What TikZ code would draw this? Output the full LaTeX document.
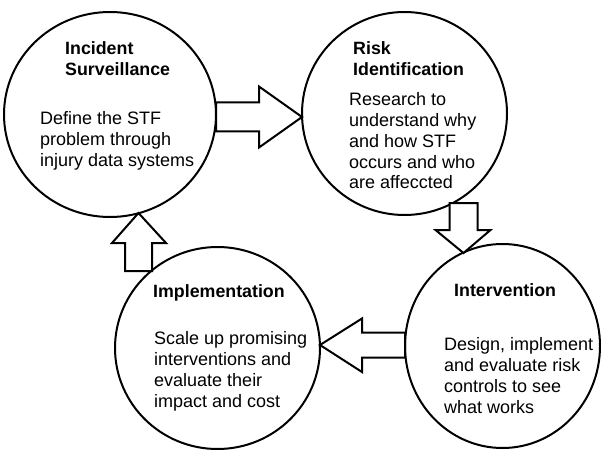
\documentclass[tikz,border=0pt]{standalone}
\usepackage{fontspec}
\setmainfont{Liberation Sans}
\usetikzlibrary{calc}
\begin{document}
\begin{tikzpicture}[x=1pt,y=-1pt,
  circ/.style={draw=black,line width=2pt},
  barrow/.style={draw=black,line width=2pt,fill=white,line join=miter},
  ttl/.style={anchor=north west,inner sep=0pt,align=left,font=\fontsize{17.8}{21.5}\selectfont\bfseries},
  bdy/.style={anchor=north west,inner sep=0pt,align=left,font=\fontsize{18}{20.8}\selectfont}]
\useasboundingbox (0,0) rectangle (601,449);
% circles
\draw[circ] (110,114.5) ellipse [x radius=106, y radius=102.5];
\draw[circ] (404.5,113.5) ellipse [x radius=102.5, y radius=101.5];
\draw[circ] (217.5,348) ellipse [x radius=102.5, y radius=101];
\draw[circ] (502.5,346) ellipse [x radius=97.5, y radius=102];
\coordinate (c1) at (110,114.5);
\coordinate (c2) at (404.5,113.5);
\coordinate (c3) at (217.5,348);
\coordinate (c4) at (502.5,346);
% block arrows
\coordinate (t12) at (302,117);
\draw[barrow] ($(t12)+(-86,-14.5)$) -- ($(t12)+(-43,-14.5)$) -- ($(t12)+(-43,-30.5)$) -- (t12)
  -- ($(t12)+(-43,30.5)$) -- ($(t12)+(-43,14.5)$) -- ($(t12)+(-86,14.5)$) -- cycle;
\coordinate (t24) at (463.5,253);
\draw[barrow] ($(t24)+(-14,-50)$) -- ($(t24)+(-14,-23)$) -- ($(t24)+(-28,-23)$) -- (t24)
  -- ($(t24)+(27,-23)$) -- ($(t24)+(14,-23)$) -- ($(t24)+(14,-50)$) -- cycle;
\coordinate (t43) at (320,345);
\draw[barrow] ($(t43)+(85,-12.5)$) -- ($(t43)+(42,-12.5)$) -- ($(t43)+(42,-26.5)$) -- (t43)
  -- ($(t43)+(42,27)$) -- ($(t43)+(42,12.5)$) -- ($(t43)+(85,12.5)$) -- cycle;
\coordinate (t31) at (138.5,213);
\draw[barrow] ($(t31)+(-13.5,58)$) -- ($(t31)+(-13.5,30)$) -- ($(t31)+(-26.5,30)$) -- (t31)
  -- ($(t31)+(27.5,30)$) -- ($(t31)+(13.5,30)$) -- ($(t31)+(13.5,58)$) -- cycle;
% texts
\node[ttl] (h1) at (65,41) {Incident\\Surveillance};
\node[bdy] (b1) at (40,111.5) {Define the STF\\problem through\\injury data systems};
\node[ttl] (h2) at (353,41) {Risk\\Identification};
\node[bdy] (b2) at (349,92.5) {Research to\\understand why\\and how STF\\occurs and who\\are affeccted};
\node[ttl] (h3) at (153,284.5) {Implementation};
\node[bdy] (b3) at (154,331.5) {Scale up promising\\interventions and\\evaluate their\\impact and cost};
\node[ttl] (h4) at (454,283.5) {Intervention};
\node[bdy] (b4) at (444,337.5) {Design, implement\\and evaluate risk\\controls to see\\what works};
\end{tikzpicture}
\end{document}
